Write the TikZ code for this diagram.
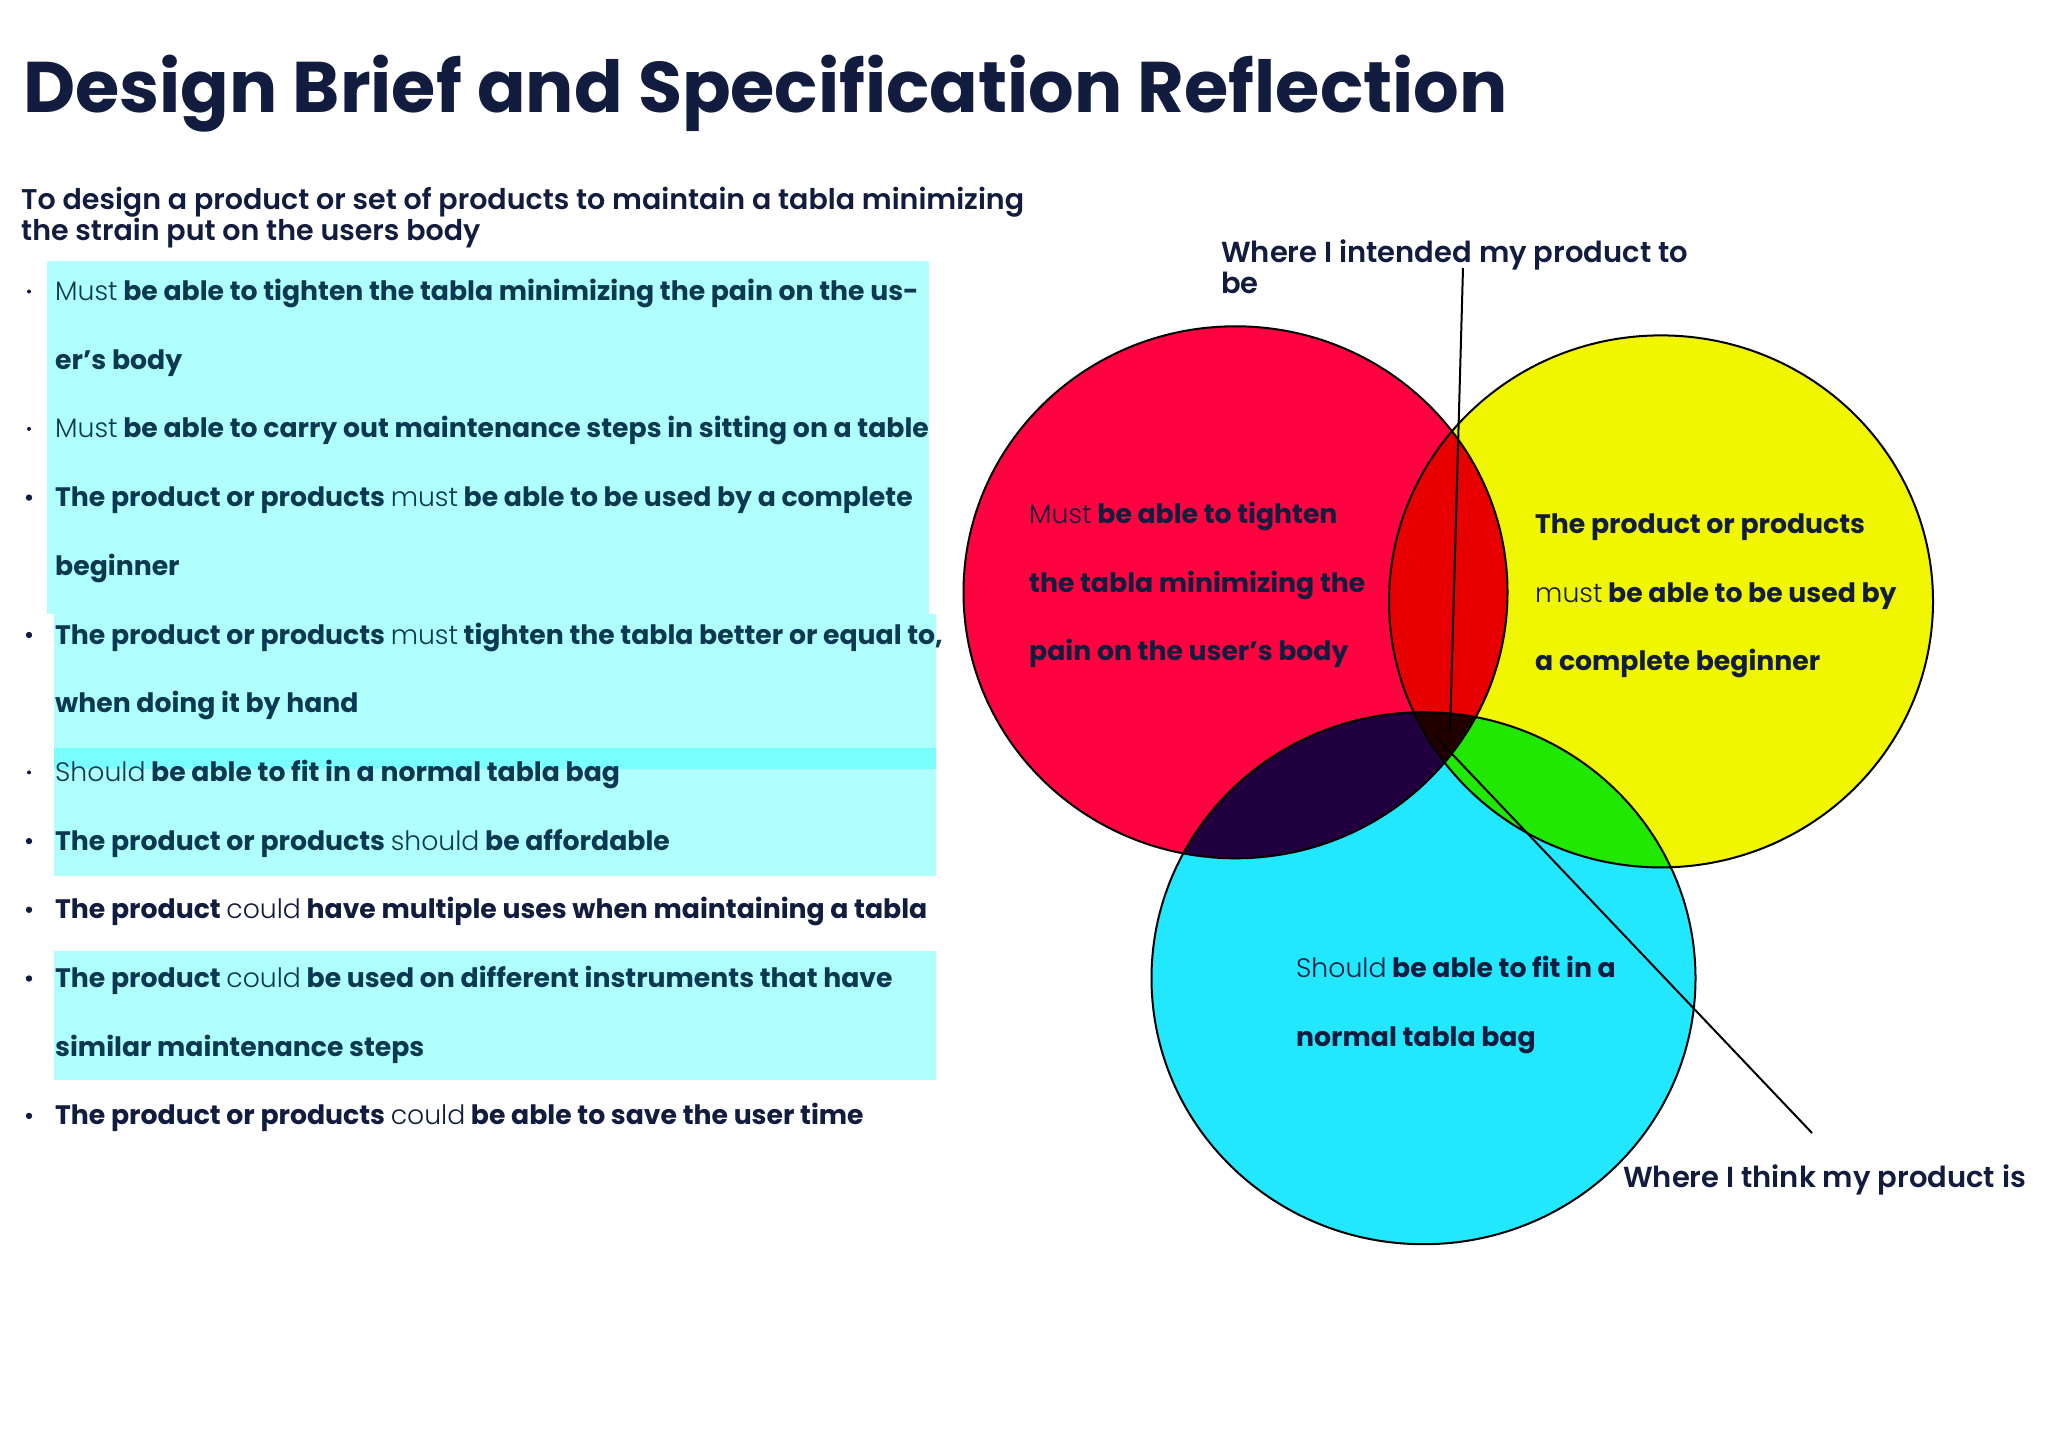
\documentclass[tikz,border=0pt]{standalone}
\usepackage{fontspec}
\setmainfont{Poppins}[BoldFont={Poppins Bold}]
\newfontfamily\lightfont{Poppins Light}
\newfontfamily\semifont{Poppins SemiBold}
\newfontfamily\heavyfont{Poppins Bold}
\newcommand\lgt[1]{{\lightfont\mdseries #1}}

\definecolor{ink}{RGB}{18,28,62}
\definecolor{inkhl}{RGB}{12,56,82}
\definecolor{hl}{RGB}{175,255,255}
\definecolor{hlstrong}{RGB}{122,255,255}
\definecolor{cred}{RGB}{255,3,64}
\definecolor{cyellow}{RGB}{240,245,0}
\definecolor{ccyan}{RGB}{34,232,255}
\definecolor{credyellow}{RGB}{232,0,0}
\definecolor{credcyan}{RGB}{34,0,64}
\definecolor{cyellowcyan}{RGB}{32,232,0}
\definecolor{call}{RGB}{34,0,0}

\tikzset{
  txt/.style={anchor=base west, inner sep=0pt, font=\bfseries\fontsize{26.7}{30}\selectfont, text=ink},
  txthl/.style={txt, text=inkhl},
  label/.style={anchor=base west, inner sep=0pt, font=\semifont\fontsize{29}{34}\selectfont, text=ink},
  ring/.style={draw=black, line width=2pt},
  pointer/.style={draw=black, line width=2pt},
  blob/.style={x radius=272pt, y radius=266pt},
}

\begin{document}
\begin{tikzpicture}[x=1pt,y=-1pt]
\useasboundingbox (0,0) rectangle (2048,1448);
\fill[white] (0,0) rectangle (2048,1448);

% heading and brief
\node[anchor=base west, inner sep=0pt, font=\heavyfont\fontsize{71.7}{78}\selectfont, text=ink] (title) at (23,112) {Design Brief and Specification Reflection};
\node[anchor=base west, inner sep=0pt, font=\semifont\fontsize{28.5}{32}\selectfont, text=ink] (brief1) at (21,209) {To design a product or set of products to maintain a tabla minimizing};
\node[anchor=base west, inner sep=0pt, font=\semifont\fontsize{28.5}{32}\selectfont, text=ink] (brief2) at (21,240) {the strain put on the users body};

% highlighter marks behind the specification list
\fill[hl] (47,261) rectangle (929,614);
\fill[hl] (54,614) rectangle (936,748);
\fill[hlstrong] (54,748) rectangle (936,769);
\fill[hl] (54,769) rectangle (936,876);
\fill[hl] (54,951) rectangle (936,1080);

% specification list
\foreach \i/\r in {0/2,2/2,3/3.2,5/3.2,7/2,8/3.2,9/3.2,10/3.2,12/3.2}
  \fill[ink] (29,{300.5+68.7*\i-9}) circle[radius=\r pt];
\node[txthl] (s0) at (55,300.5) {\lgt{Must} be able to tighten the tabla minimizing the pain on the us-};
\node[txthl] (s1) at (55,369.2) {er’s body};
\node[txthl] (s2) at (55,437.9) {\lgt{Must} be able to carry out maintenance steps in sitting on a table};
\node[txthl] (s3) at (55,506.6) {The product or products \lgt{must} be able to be used by a complete};
\node[txthl] (s4) at (55,575.3) {beginner};
\node[txthl] (s5) at (55,644.0) {The product or products \lgt{must} tighten the tabla better or equal to,};
\node[txthl] (s6) at (55,712.7) {when doing it by hand};
\node[txthl] (s7) at (55,781.4) {\lgt{Should} be able to fit in a normal tabla bag};
\node[txthl] (s8) at (55,850.1) {The product or products \lgt{should} be affordable};
\node[txt]   (s9) at (55,918.8) {The product \lgt{could} have multiple uses when maintaining a tabla};
\node[txthl] (s10) at (55,987.5) {The product \lgt{could} be used on different instruments that have};
\node[txthl] (s11) at (55,1056.2) {similar maintenance steps};
\node[txt]   (s12) at (55,1124.9) {The product or products \lgt{could} be able to save the user time};

% Venn diagram
\coordinate (cR) at (1235.5,592.3);
\coordinate (cY) at (1661,601.4);
\coordinate (cC) at (1423.5,978.2);
\fill[cred] (cR) ellipse[blob];
\fill[cyellow] (cY) ellipse[blob];
\fill[ccyan] (cC) ellipse[blob];
\begin{scope}
  \clip (cR) ellipse[blob];
  \fill[credyellow] (cY) ellipse[blob];
  \fill[credcyan] (cC) ellipse[blob];
\end{scope}
\begin{scope}
  \clip (cY) ellipse[blob];
  \fill[cyellowcyan] (cC) ellipse[blob];
\end{scope}
\begin{scope}
  \clip (cR) ellipse[blob];
  \clip (cY) ellipse[blob];
  \fill[call] (cC) ellipse[blob];
\end{scope}
\draw[ring] (cR) ellipse[blob];
\draw[ring] (cY) ellipse[blob];
\draw[ring] (cC) ellipse[blob];

% circle contents
\node[txt] (r1) at (1029,523) {\lgt{Must} be able to tighten};
\node[txt] (r2) at (1029,592) {the tabla minimizing the};
\node[txt] (r3) at (1029,660) {pain on the user’s body};
\node[txt] (y1) at (1535,533) {The product or products};
\node[txt] (y2) at (1535,602) {\lgt{must} be able to be used by};
\node[txt] (y3) at (1535,670) {a complete beginner};
\node[txt] (c1) at (1296,977) {\lgt{Should} be able to fit in a};
\node[txt] (c2) at (1296,1046) {normal tabla bag};

% annotations
\node[label] (intend1) at (1221,262) {Where I intended my product to};
\node[label] (intend2) at (1221,293) {be};
\node[label] (think) at (1623,1187) {Where I think my product is};
\coordinate (intendTip) at (1463,268);
\coordinate (intendEnd) at (1450,732);
\coordinate (thinkStart) at (1434,735);
\coordinate (thinkTip) at (1812,1133);
\draw[pointer] (intendTip) -- (intendEnd);
\draw[pointer] (thinkStart) -- (thinkTip);
\end{tikzpicture}
\end{document}
